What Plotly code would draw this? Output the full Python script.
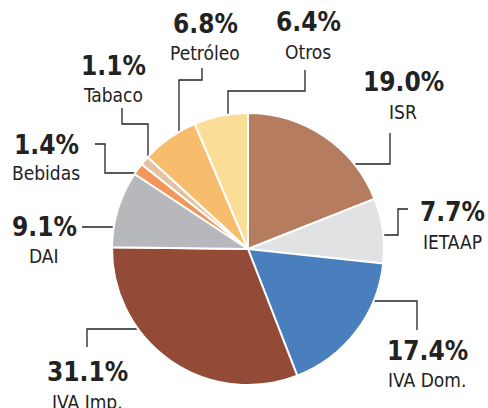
import plotly.graph_objects as go

categories = ["ISR", "IETAAP", "IVA Dom.", "IVA Imp.", "DAI", "Bebidas", "Tabaco", "Petróleo", "Otros"]
values = [19.0, 7.7, 17.4, 31.1, 9.1, 1.4, 1.1, 6.8, 6.4]
colors = ["#B67C5F", "#E1E2E3", "#4A7FBE", "#934B37", "#B7B8BB", "#F09859", "#E3C3A3", "#F8BD6C", "#FADD97"]

# label layout (pixel positions): dot, leader path, percent label centre, name label centre
label_layout = {
    "ISR":      dict(path=[(323, 164), (390, 164), (390, 133)], pct=(403, 82), name=(403, 112)),
    "IETAAP":   dict(path=[(348, 235), (398, 235), (398, 209), (408, 209)], pct=(452, 212), name=(452, 242)),
    "IVA Dom.": dict(path=[(340, 301), (417, 301), (417, 330)], pct=(427, 351), name=(427, 380)),
    "IVA Imp.": dict(path=[(170, 329), (87, 329), (87, 347)], pct=(87, 372), name=(87, 402)),
    "DAI":      dict(path=[(127, 227), (82, 227)], pct=(44, 227), name=(44, 256)),
    "Bebidas":  dict(path=[(140, 173), (105, 173), (105, 144), (95, 144)], pct=(46, 145), name=(46, 173)),
    "Tabaco":   dict(path=[(148, 163), (148, 124), (122, 124), (122, 108)], pct=(113, 66), name=(113, 95)),
    "Petróleo": dict(path=[(179, 144), (179, 80), (202, 80), (202, 68)], pct=(205, 24), name=(205, 53)),
    "Otros":    dict(path=[(228, 127), (228, 91), (305, 91), (305, 70)], pct=(308, 22), name=(308, 52)),
}

W, H = 488, 408
cx, cy, r = 248, 249, 136

fig = go.Figure()
fig.add_trace(go.Pie(
    labels=categories, values=values, sort=False, direction="clockwise", rotation=0,
    marker=dict(colors=colors, line=dict(color="white", width=2)),
    textinfo="none", hoverinfo="skip", showlegend=False,
    domain=dict(x=[(cx - r) / W, (cx + r) / W], y=[(H - cy - r) / H, (H - cy + r) / H]),
))

font_fam = "DejaVu Sans Condensed, Liberation Sans Narrow, Arial Narrow, sans-serif"
annotations = []
for cat, val in zip(categories, values):
    lay = label_layout[cat]
    xs = [p[0] for p in lay["path"]]
    ys = [p[1] for p in lay["path"]]
    fig.add_trace(go.Scatter(x=xs, y=ys, mode="lines", line=dict(color="#222222", width=1.3),
                             hoverinfo="skip", showlegend=False))
    fig.add_trace(go.Scatter(x=[xs[0]], y=[ys[0]], mode="markers", marker=dict(color="#1a1a1a", size=7),
                             hoverinfo="skip", showlegend=False))
    annotations.append(dict(x=lay["pct"][0], y=lay["pct"][1], xref="x", yref="y", showarrow=False,
                            text=f"<b>{val:.1f}%</b>", font=dict(family=font_fam, size=26, color="#222222"),
                            xanchor="center", yanchor="middle"))
    annotations.append(dict(x=lay["name"][0], y=lay["name"][1], xref="x", yref="y", showarrow=False,
                            text=cat, font=dict(family=font_fam, size=19, color="#222222"),
                            xanchor="center", yanchor="middle"))

fig.update_layout(
    width=W, height=H, margin=dict(l=0, r=0, t=0, b=0),
    paper_bgcolor="white", plot_bgcolor="rgba(0,0,0,0)",
    xaxis=dict(range=[0, W], visible=False, fixedrange=True, domain=[0, 1]),
    yaxis=dict(range=[H, 0], visible=False, fixedrange=True, domain=[0, 1]),
    annotations=annotations,
)

fig.write_html("out.html", config={"displayModeBar": False},
               post_script="document.body.style.margin='0';document.body.style.overflow='hidden';")
